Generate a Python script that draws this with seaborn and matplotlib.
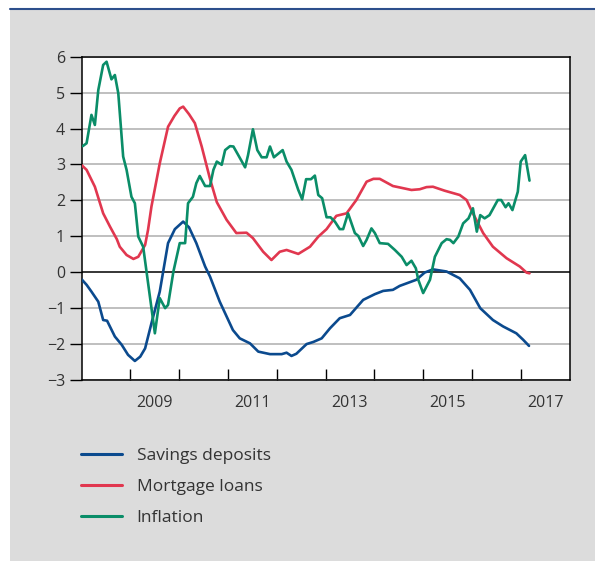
#!/usr/bin/env python3
import matplotlib

matplotlib.use("Agg")
import matplotlib.pyplot as plt
import numpy as np
import pandas as pd
import seaborn as sns
from matplotlib.lines import Line2D
from matplotlib.patches import Rectangle

# values (decimal years, percent)
savings_t = [2008.0, 2008.1, 2008.2, 2008.34, 2008.44, 2008.52, 2008.68, 2008.82,
             2008.95, 2009.09, 2009.2, 2009.3, 2009.43, 2009.6, 2009.77, 2009.91,
             2010.08, 2010.2, 2010.35, 2010.53, 2010.63, 2010.83, 2011.1, 2011.24,
             2011.45, 2011.62, 2011.86, 2012.1, 2012.2, 2012.3, 2012.4, 2012.61,
             2012.75, 2012.92, 2013.09, 2013.29, 2013.5, 2013.77, 2014.01, 2014.18,
             2014.38, 2014.52, 2014.86, 2015.03, 2015.2, 2015.48, 2015.75, 2015.96,
             2016.17, 2016.43, 2016.64, 2016.91, 2017.05, 2017.17]
savings_v = [-0.2, -0.35, -0.54, -0.82, -1.33, -1.35, -1.79, -2.02,
             -2.30, -2.47, -2.35, -2.12, -1.42, -0.54, 0.81, 1.2,
             1.41, 1.25, 0.81, 0.16, -0.12, -0.82, -1.61, -1.84,
             -1.98, -2.21, -2.28, -2.28, -2.24, -2.33, -2.27, -2.0,
             -1.94, -1.84, -1.56, -1.28, -1.19, -0.77, -0.61, -0.52,
             -0.49, -0.38, -0.21, -0.01, 0.08, 0.02, -0.17, -0.49,
             -1.0, -1.33, -1.51, -1.70, -1.88, -2.05]

mortgage_t = [2008.0, 2008.1, 2008.27, 2008.44, 2008.58, 2008.72, 2008.78, 2008.92,
              2009.06, 2009.16, 2009.3, 2009.36, 2009.43, 2009.6, 2009.77, 2009.9,
              2010.01, 2010.08, 2010.2, 2010.32, 2010.46, 2010.63, 2010.77, 2010.97,
              2011.17, 2011.38, 2011.51, 2011.72, 2011.89, 2012.06, 2012.2, 2012.44,
              2012.68, 2012.85, 2013.02, 2013.22, 2013.43, 2013.63, 2013.84, 2013.98,
              2014.11, 2014.38, 2014.52, 2014.76, 2014.93, 2015.07, 2015.2, 2015.44,
              2015.75, 2015.89, 2016.02, 2016.23, 2016.43, 2016.71, 2016.98, 2017.12,
              2017.18]
mortgage_v = [2.98, 2.85, 2.38, 1.64, 1.27, 0.92, 0.71, 0.48,
              0.37, 0.43, 0.76, 1.18, 1.83, 3.03, 4.05, 4.35,
              4.56, 4.61, 4.4, 4.15, 3.5, 2.6, 1.95, 1.46,
              1.09, 1.10, 0.95, 0.57, 0.34, 0.57, 0.62, 0.51,
              0.71, 0.99, 1.20, 1.57, 1.64, 2.01, 2.52, 2.6,
              2.6, 2.4, 2.36, 2.29, 2.31, 2.37, 2.38, 2.27,
              2.15, 2.01, 1.64, 1.09, 0.71, 0.39, 0.16, -0.01,
              -0.03]

inflation_t = [2008.02, 2008.1, 2008.2, 2008.27, 2008.34, 2008.44, 2008.51, 2008.61,
               2008.68, 2008.75, 2008.85, 2008.92, 2009.02, 2009.09, 2009.16, 2009.26,
               2009.5, 2009.6, 2009.71, 2009.77, 2009.88, 2010.01, 2010.12, 2010.18,
               2010.28, 2010.35, 2010.42, 2010.53, 2010.63, 2010.70, 2010.77, 2010.87,
               2010.94, 2011.04, 2011.11, 2011.21, 2011.35, 2011.41, 2011.51, 2011.6,
               2011.69, 2011.79, 2011.86, 2011.94, 2012.12, 2012.2, 2012.30, 2012.44,
               2012.52, 2012.6, 2012.70, 2012.78, 2012.85, 2012.93, 2013.02, 2013.1,
               2013.19, 2013.29, 2013.36, 2013.46, 2013.6, 2013.67, 2013.77, 2013.84,
               2013.94, 2014.01, 2014.11, 2014.28, 2014.42, 2014.56, 2014.66, 2014.76,
               2014.85, 2014.90, 2015.0, 2015.14, 2015.24, 2015.38, 2015.48, 2015.55,
               2015.62, 2015.72, 2015.82, 2015.93, 2016.02, 2016.1, 2016.17, 2016.26,
               2016.36, 2016.53, 2016.6, 2016.69, 2016.75, 2016.83, 2016.94, 2017.0,
               2017.09, 2017.18]
inflation_v = [3.51, 3.59, 4.38, 4.10, 5.07, 5.77, 5.86, 5.37,
               5.49, 4.98, 3.22, 2.85, 2.10, 1.92, 0.99, 0.71,
               -1.70, -0.72, -1.0, -0.91, 0.02, 0.81, 0.81, 1.92,
               2.10, 2.48, 2.68, 2.40, 2.40, 2.85, 3.08, 2.99,
               3.40, 3.51, 3.50, 3.26, 2.92, 3.26, 3.98, 3.40,
               3.20, 3.20, 3.50, 3.20, 3.40, 3.08, 2.85, 2.29,
               2.03, 2.59, 2.59, 2.69, 2.15, 2.06, 1.53, 1.53,
               1.41, 1.20, 1.20, 1.64, 1.09, 1.01, 0.73, 0.90,
               1.22, 1.09, 0.81, 0.79, 0.62, 0.43, 0.20, 0.32,
               0.11, -0.21, -0.58, -0.21, 0.43, 0.81, 0.92, 0.90,
               0.81, 0.99, 1.36, 1.50, 1.78, 1.13, 1.59, 1.50,
               1.59, 2.01, 2.01, 1.81, 1.92, 1.73, 2.24, 3.08,
               3.26, 2.55]

series_names = ["Savings deposits", "Mortgage loans", "Inflation"]
series_colors = ["#0b4a8e", "#e1374f", "#0a8d68"]
year_ticks = list(range(2009, 2018))
year_labels = [2009, 2011, 2013, 2015, 2017]
y_ticks = list(range(-3, 7))


def build_frame():
    parts = []
    for name, t, v in zip(series_names,
                          [savings_t, mortgage_t, inflation_t],
                          [savings_v, mortgage_v, inflation_v]):
        parts.append(pd.DataFrame({"year": t, "value": v, "series": name}))
    return pd.concat(parts, ignore_index=True)


def main():
    sns.set_style("white")
    plt.rcParams["font.family"] = ["Open Sans", "DejaVu Sans"]
    text_color = "#333333"

    df = build_frame()

    fig = plt.figure(figsize=(5.95, 5.61), dpi=100)
    fig.patch.set_facecolor("white")
    fig.patches.append(Rectangle((10 / 595, 0), 585 / 595, 1 - 10 / 561,
                                 transform=fig.transFigure, facecolor="#dcdcdc",
                                 edgecolor="none", zorder=-10))
    fig.lines.append(Line2D([10 / 595, 1], [1 - 9 / 561] * 2, transform=fig.transFigure,
                            color="#2d4f8c", lw=1.5))

    ax = fig.add_axes([81.7 / 595, 1 - 380 / 561, (569.5 - 81.7) / 595, (380 - 56.7) / 561])
    ax.set_facecolor("white")

    for y in y_ticks:
        ax.axhline(y, color="black" if y == 0 else "#b4b4b4",
                   lw=1.1 if y == 0 else 1.2, zorder=1)

    sns.lineplot(data=df, x="year", y="value", hue="series", hue_order=series_names,
                 palette=series_colors, estimator=None, lw=1.9, ax=ax, zorder=3)

    ax.set_xlim(2008, 2018)
    ax.set_ylim(-3, 6)
    ax.set_yticks(y_ticks)
    ax.set_yticklabels([f"{y:d}".replace("-", "\u2212") for y in y_ticks])
    ax.set_xticks(year_ticks)
    ax.set_xticklabels([])
    ax.set_xticks([y + 0.5 for y in year_labels], minor=True)
    ax.set_xticklabels([str(y) for y in year_labels], minor=True)
    ax.tick_params(axis="y", direction="out", length=9, width=1.0, color="black",
                   labelsize=11.5, labelcolor=text_color, pad=3, left=True)
    ax.tick_params(axis="x", which="major", direction="in", length=8, width=1.0,
                   color="black", bottom=True)
    ax.tick_params(axis="x", which="minor", length=0, labelsize=11.5,
                   labelcolor=text_color, pad=11)
    for spine in ax.spines.values():
        spine.set_visible(True)
        spine.set_color("black")
        spine.set_linewidth(1.1)
    ax.set_xlabel("")
    ax.set_ylabel("")

    handles, labels = ax.get_legend_handles_labels()
    ax.get_legend().remove()
    leg = fig.legend(handles, labels, loc="upper left",
                     bbox_to_anchor=(81 / 595, 1 - 448 / 561), frameon=False,
                     fontsize=12.5, handlelength=2.35, handletextpad=0.85,
                     labelspacing=0.86, borderpad=0, borderaxespad=0)
    for text in leg.get_texts():
        text.set_color(text_color)
    for line in leg.get_lines():
        line.set_linewidth(2.2)

    fig.savefig("out.png", dpi=100, facecolor=fig.get_facecolor())
    plt.close(fig)


if __name__ == "__main__":
    main()
